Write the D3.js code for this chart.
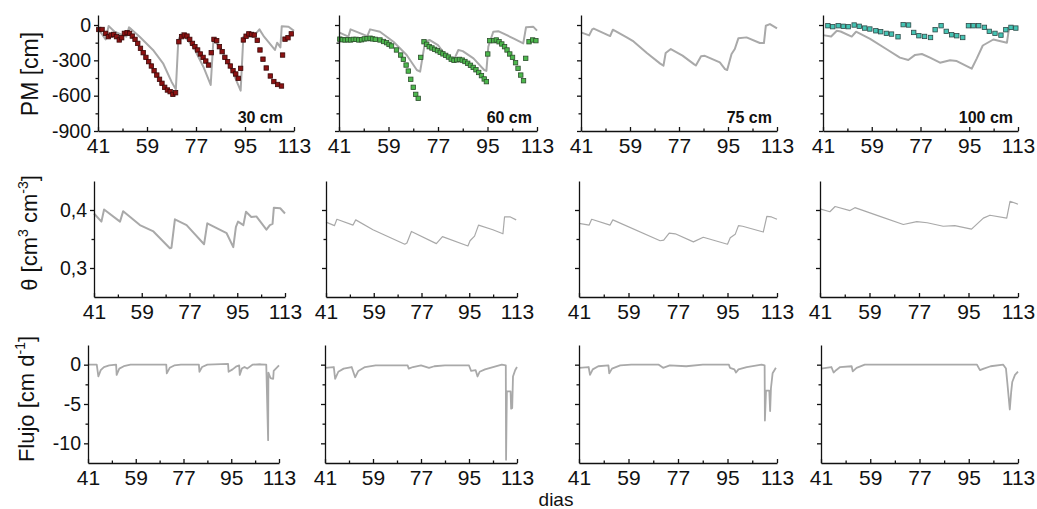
<!DOCTYPE html>
<html>
<head>
<meta charset="utf-8">
<script src="https://cdn.jsdelivr.net/npm/d3@7"></script>
<style>
  body { margin: 0; background: #fff; }
  text { font-family: "Liberation Sans", Arial, sans-serif; }
</style>
</head>
<body>
<svg id="chart" width="1037" height="509"></svg>
<script>

// x ticks (dias)
const dayTicks = [41, 59, 77, 95, 113];
const dayMinor = [50, 68, 86, 104];
const depths = ["30 cm", "60 cm", "75 cm", "100 cm"];

const pmTicks = [0, -300, -600, -900];
const pmMinor = [-150, -450, -750];
const thetaTicks = [0.3, 0.4];
const thetaMinor = [0.35];
const fluxTicks = [0, -5, -10];
const fluxMinor = [-2.5, -7.5];

// PM simulated (grey line) [day, cm]
const pm30Sim = [[41,-28],[43.8,-122],[44.9,-8],[47.1,-57],[51.4,-99],[52.4,-20],[56.3,-99],[61.2,-212],[64.9,-325],[68,-481],[69.6,-546],[70.5,-127],[71.7,-71],[76,-184],[79.7,-354],[82.4,-509],[83.4,-127],[85.8,-184],[90.7,-410],[93.4,-557],[94.4,-99],[98,-99],[100.3,-37],[102,-99],[106,-212],[106.8,-150],[108,-190],[108.5,-10],[111,-15],[113,-50]];
const pm60Sim = [[41.2,-65],[44.4,-99],[45.2,-37],[51.3,-94],[52.3,-37],[55.9,-57],[60.8,-142],[65.6,-255],[69.3,-382],[70.5,-396],[72.3,-142],[73.9,-127],[77,-170],[80.1,-269],[82.5,-311],[84.4,-212],[86,-222],[89.9,-283],[93.8,-382],[94.6,-390],[95.3,-184],[97.1,-57],[98.9,-52],[104.4,-113],[108,-156],[109,-20],[111.6,-14],[113,-48]];
const pm75Sim = [[41,-62],[44,-88],[45.1,-37],[45.7,-30],[51.7,-94],[52.7,-40],[57.8,-105],[60.3,-139],[65.2,-238],[70.1,-328],[71.3,-345],[72.1,-238],[74,-204],[78.3,-260],[82.6,-334],[83.2,-343],[85.1,-266],[86.5,-262],[92,-317],[93.9,-374],[94.7,-382],[96.3,-246],[97.5,-204],[98.8,-113],[101.8,-105],[106.7,-153],[108.2,-153],[108.9,-6],[110.4,8],[113,-29]];
const pm100Sim = [[41,-86],[44,-98],[46.1,-49],[47.5,-55],[51.6,-98],[53.2,-57],[58.4,-117],[64.5,-206],[69.4,-277],[72.5,-297],[75,-254],[77.5,-246],[80.5,-277],[84.2,-320],[87.9,-300],[90.4,-306],[95.9,-371],[97.8,-283],[100,-174],[103.9,-123],[108.9,-151],[109.5,-57],[110.3,-9],[113,-29]];

// PM observed (squares) [day, cm]
const pm30Obs = [[41.3,-38],[42.5,-38],[43.8,-71],[44.8,-99],[45.8,-85],[46.8,-80],[47.8,-99],[48.8,-127],[49.7,-108],[50.7,-71],[51.7,-65],[52.6,-71],[53.6,-94],[54.6,-122],[55.6,-156],[56.6,-198],[57.6,-235],[58.6,-275],[59.6,-311],[60.6,-348],[61.6,-388],[62.6,-425],[63.6,-461],[64.5,-495],[65.5,-529],[66.5,-552],[67.5,-566],[68.5,-589],[69.5,-575],[70.7,-142],[71.7,-99],[72.7,-85],[73.7,-94],[74.7,-122],[75.7,-156],[76.6,-184],[77.6,-212],[78.6,-246],[79.6,-275],[80.6,-306],[81.6,-340],[82.6,-235],[83.6,-122],[84.6,-133],[85.6,-184],[86.6,-226],[87.6,-275],[88.6,-311],[89.6,-348],[90.6,-388],[91.6,-416],[92.5,-453],[93.4,-368],[94.4,-127],[95.4,-95],[96.4,-75],[97.4,-80],[98.4,-85],[99.5,-130],[100.5,-212],[101.6,-290],[102.8,-365],[104.3,-433],[105.6,-480],[107,-505],[108.4,-518],[108.8,-255],[109.7,-120],[110.8,-108],[112,-75]];
const pm60Obs = [[41.3,-120],[42.2,-125],[43.2,-127],[44.2,-125],[45.2,-127],[46.2,-122],[47.2,-122],[48.2,-127],[49.2,-125],[50.2,-118],[51.2,-116],[52.3,-112],[53.2,-118],[54.2,-122],[55.9,-127],[57.2,-140],[58.3,-150],[59.2,-165],[60.1,-178],[61.9,-212],[63.4,-255],[64.4,-292],[65.4,-340],[66.2,-391],[67.1,-461],[68,-529],[68.9,-589],[69.8,-623],[70.7,-275],[71.9,-142],[72.9,-164],[73.8,-184],[74.8,-195],[75.8,-207],[76.8,-218],[77.8,-232],[78.8,-245],[79.8,-258],[80.8,-272],[81.8,-290],[82.8,-300],[83.8,-296],[84.8,-292],[85.8,-298],[86.8,-310],[87.8,-325],[88.8,-342],[89.8,-360],[90.8,-380],[91.8,-403],[92.8,-430],[93.8,-458],[94.6,-481],[95.1,-246],[95.8,-133],[97.3,-133],[98.2,-127],[99.2,-142],[100.2,-161],[101.2,-184],[102.1,-212],[103.1,-246],[104.1,-275],[105.2,-320],[106.1,-368],[107.1,-425],[108.1,-473],[108.9,-283],[110.1,-142],[111.4,-127],[112.6,-133]];
const pm100Obs = [[42.8,-6],[44.6,-14],[46.6,-6],[48.5,-11],[50.3,-14],[52.5,0],[54.4,-11],[56.4,-26],[58.3,-34],[60.5,-49],[62.3,-57],[64.4,-71],[66.3,-77],[68.7,-100],[70.6,3],[72.6,0],[74.5,-63],[76.4,-91],[78.5,-97],[80.7,-106],[82.4,-40],[84.6,-6],[86.5,-54],[88.5,-83],[90.4,-91],[92.6,-106],[94.7,-6],[96.5,-6],[98.5,-6],[100.6,-20],[102.4,-54],[104.5,-71],[106.7,-86],[108.5,-40],[110.4,-20],[112.2,-26]];

// theta [cm3 cm-3]
const theta30 = [[41,0.394],[43.8,0.380],[44.8,0.401],[50.8,0.380],[52,0.398],[58.3,0.374],[63.4,0.363],[69.6,0.334],[70.2,0.335],[71.5,0.384],[75.9,0.374],[82.5,0.341],[83.7,0.377],[91,0.36],[93.5,0.336],[94.5,0.371],[95.3,0.380],[97.3,0.374],[98.3,0.397],[100.3,0.388],[102.2,0.389],[106,0.366],[107.3,0.374],[108.3,0.376],[108.8,0.404],[111.2,0.403],[113,0.394]];
const theta60 = [[41,0.379],[44.2,0.373],[45.1,0.384],[51.2,0.374],[52.2,0.383],[58.7,0.366],[70.7,0.341],[71.5,0.343],[73.2,0.363],[82.6,0.342],[84.9,0.354],[94.5,0.338],[95.3,0.347],[97,0.355],[98.5,0.374],[103.9,0.366],[107.7,0.359],[108.3,0.388],[110.5,0.388],[112.7,0.383]];
const theta75 = [[41,0.377],[44.7,0.374],[45.6,0.384],[52.3,0.374],[53.3,0.383],[70.5,0.347],[71.8,0.348],[73.8,0.360],[76,0.359],[82.6,0.345],[86.2,0.353],[95,0.341],[96,0.352],[97.8,0.358],[99,0.373],[100.5,0.372],[108,0.362],[109.3,0.389],[111,0.388],[113,0.384]];
const theta100 = [[41,0.402],[44.6,0.397],[46.5,0.406],[51.9,0.399],[53.7,0.404],[62.8,0.389],[71.3,0.375],[76.2,0.380],[80,0.378],[85.8,0.372],[90,0.373],[96.1,0.367],[100.4,0.386],[102.8,0.391],[108.9,0.386],[110.1,0.415],[113,0.41]];

// flujo [cm d-1]
const flux30 = [[41,0],[44.3,0],[44.9,-1.5],[45.8,-0.7],[47,-0.3],[49,-0.1],[51.6,0],[51.8,-1.3],[52.8,-0.5],[54.5,-0.2],[57,0],[70.5,0],[70.7,-1.1],[71.8,-0.4],[73.5,-0.1],[76,0],[82.8,0],[83,-0.9],[84,-0.3],[86,0],[93.8,0.1],[94,-0.9],[95.5,-0.6],[97,-0.2],[98,-0.1],[98.2,-1.3],[99,-0.5],[100,-0.3],[101,-0.5],[103,0],[106,0.05],[108.2,0],[108.9,-9.6],[109,-1],[109.8,-1.7],[110.8,-1.8],[111,-0.8],[113,-0.1]];
const flux60 = [[41,-0.4],[44.3,-0.3],[44.8,-1.8],[46,-0.9],[48,-0.5],[51,-0.3],[52.3,-1.6],[53.5,-0.8],[56,-0.3],[60,-0.1],[72,-0.1],[72.4,-0.5],[74,-0.3],[77,-0.1],[80,-0.4],[82,-0.2],[86,-0.1],[95,-0.1],[95.8,-0.8],[97.5,-0.7],[98.2,-1.5],[99,-0.9],[101,-0.6],[104,-0.3],[107.3,0],[108.8,-0.1],[108.9,-12.1],[109.2,-3.4],[110.6,-3.4],[110.8,-5.6],[111.2,-5.5],[111.5,-1.5],[112.3,-0.7],[113,-0.3]];
const flux75 = [[41,-0.4],[44.5,-0.3],[45,-1.3],[46,-0.6],[48,-0.2],[51.7,-0.1],[52,-1.1],[53,-0.5],[56,-0.1],[60,0],[70,0],[71.6,-0.4],[74,-0.1],[80,-0.2],[86,0],[95.5,0],[95.9,-0.4],[97.5,-0.6],[98.1,-1],[99,-0.6],[102,-0.3],[107.4,0],[108.5,-0.1],[108.6,-7.1],[109,-3.3],[110.2,-3.3],[110.5,-5.9],[110.8,-3],[111.4,-1.1],[112.6,-0.4]];
const flux100 = [[41,-0.5],[44.8,-0.3],[45.6,-1],[46.5,-0.7],[48,-0.3],[52.2,-0.2],[52.6,-0.85],[54,-0.4],[57,0],[80,0],[98,0],[99.1,-0.7],[100.5,-0.5],[103,-0.2],[107.6,0],[108.6,-0.5],[109.1,-2.3],[110,-5.7],[110.5,-3.5],[110.9,-2.2],[111.9,-1.3],[113,-0.9]];

const svg = d3.select("#chart");
const grey = "#a9a9a9";
const obsStyle = [
  {fill: "#8b1212", stroke: "#3b0808"},
  {fill: "#4cb84c", stroke: "#2d4f2d"},
  null,
  {fill: "#45c4b4", stroke: "#2e4a48"}
];

const rows = [
  {top: 15, bottom: 131, xs: [[98,294],[339,537],[581,777],[823,1018]], domain: [-900, 85],
   major: pmTicks, minor: pmMinor, fmt: d => String(d),
   lines: [pm30Sim, pm60Sim, pm75Sim, pm100Sim], obs: [pm30Obs, pm60Obs, null, pm100Obs], widths: [2,2,2,2]},
  {top: 181, bottom: 297, xs: [[94,285],[326,517],[579,777],[820,1018]], domain: [0.25, 0.45],
   major: thetaTicks, minor: thetaMinor, fmt: d => d.toFixed(1).replace(".", ","),
   lines: [theta30, theta60, theta75, theta100], obs: [null,null,null,null], widths: [2,1.2,1.2,1.2]},
  {top: 345, bottom: 463, xs: [[88,279],[325,517],[579,777],[821,1018]], domain: [-12.5, 2.5],
   major: fluxTicks, minor: fluxMinor, fmt: d => String(d),
   lines: [flux30, flux60, flux75, flux100], obs: [null,null,null,null], widths: [1.8,1.8,1.8,1.8]}
];

function styleAxis(a, size) {
  a.attr("font-size", size || 20).attr("font-family", "Liberation Sans, Arial, sans-serif");
  a.selectAll("path, line").attr("stroke", "#111").attr("stroke-width", 1.3);
  a.selectAll("text").attr("fill", "#111");
}

rows.forEach((row, r) => {
  row.xs.forEach((xr, c) => {
    const x = d3.scaleLinear().domain([41, 113]).range(xr);
    const y = d3.scaleLinear().domain(row.domain).range([row.bottom, row.top]);
    const g = svg.append("g");

    // grey simulated line
    g.append("path")
      .datum(row.lines[c])
      .attr("fill", "none")
      .attr("stroke", grey)
      .attr("stroke-width", row.widths[c])
      .attr("stroke-linejoin", "round")
      .attr("d", d3.line().x(d => x(d[0])).y(d => y(d[1])));

    // observed squares
    if (row.obs[c]) {
      const st = obsStyle[c];
      g.selectAll("rect.obs").data(row.obs[c])
        .join("rect")
        .attr("class", "obs")
        .attr("x", d => x(d[0]) - 2.2)
        .attr("y", d => y(d[1]) - 2.2)
        .attr("width", 4.4)
        .attr("height", 4.4)
        .attr("fill", st.fill)
        .attr("stroke", st.stroke)
        .attr("stroke-width", 0.8);
    }

    // y axis
    g.append("g")
      .attr("transform", `translate(${xr[0]},0)`)
      .call(d3.axisLeft(y).tickValues(row.major).tickSize(4).tickPadding(3).tickSizeOuter(0)
        .tickFormat(c === 0 ? row.fmt : () => ""))
      .call(a => styleAxis(a, 19.5));
    g.append("g")
      .attr("transform", `translate(${xr[0]},0)`)
      .call(d3.axisLeft(y).tickValues(row.minor).tickSize(2.5).tickFormat(() => ""))
      .call(a => a.select(".domain").remove())
      .call(a => styleAxis(a));

    // x axis, ticks pointing inward
    g.append("g")
      .attr("transform", `translate(0,${row.bottom})`)
      .call(d3.axisBottom(x).tickValues(dayTicks).tickSizeInner(-4).tickSizeOuter(0).tickPadding(7)
        .tickFormat(d => String(d)))
      .call(a => styleAxis(a, 21));
    g.append("g")
      .attr("transform", `translate(0,${row.bottom})`)
      .call(d3.axisBottom(x).tickValues(dayMinor).tickSizeInner(-2.5).tickSizeOuter(0).tickFormat(() => ""))
      .call(a => a.select(".domain").remove())
      .call(a => styleAxis(a));

    if (r === 0) {
      g.append("text")
        .attr("x", xr[1] - (c === 0 ? 11 : 5))
        .attr("y", 123)
        .attr("text-anchor", "end")
        .attr("font-size", 16)
        .attr("font-weight", "bold")
        .attr("fill", "#111")
        .text(depths[c]);
    }
  });
});

// y labels
svg.append("text")
  .attr("transform", "translate(38,74) rotate(-90)")
  .attr("text-anchor", "middle")
  .attr("font-size", 23)
  .attr("fill", "#111")
  .text("PM [cm]");

const th = svg.append("text")
  .attr("transform", "translate(37,233) rotate(-90)")
  .attr("text-anchor", "middle")
  .attr("font-size", 22)
  .attr("fill", "#111");
th.append("tspan").text("\u03B8 [cm");
th.append("tspan").attr("dy", -9).attr("font-size", 14).text("3");
th.append("tspan").attr("dy", 9).text(" cm");
th.append("tspan").attr("dy", -9).attr("font-size", 14).text("-3");
th.append("tspan").attr("dy", 9).text("]");

const fl = svg.append("text")
  .attr("transform", "translate(34,399) rotate(-90)")
  .attr("text-anchor", "middle")
  .attr("font-size", 22)
  .attr("fill", "#111");
fl.append("tspan").text("Flujo [cm d");
fl.append("tspan").attr("dy", -9).attr("font-size", 14).text("-1");
fl.append("tspan").attr("dy", 9).text("]");

svg.append("text")
  .attr("x", 556)
  .attr("y", 506)
  .attr("text-anchor", "middle")
  .attr("font-size", 19)
  .attr("fill", "#111")
  .text("dias");

</script>
</body>
</html>
